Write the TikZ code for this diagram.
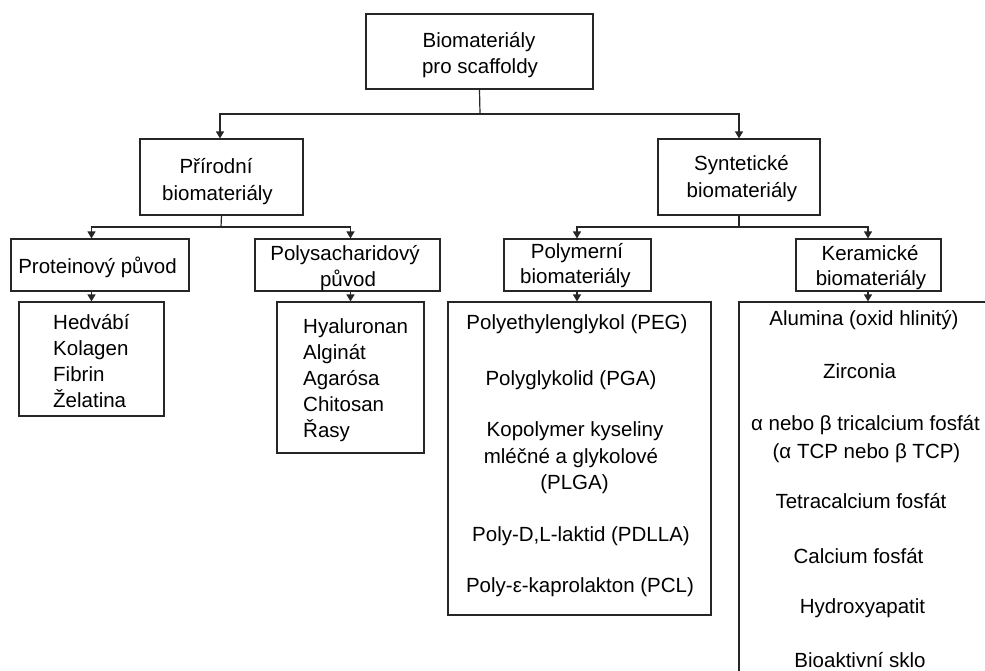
\documentclass[tikz,border=0pt]{standalone}
\usepackage{fontspec}
\setmainfont{Liberation Sans}
\usetikzlibrary{arrows.meta}
\begin{document}
\begin{tikzpicture}[x=1pt,y=-1pt,
  box/.style={draw=black!85,line width=1.2pt,inner sep=0pt,rectangle},
  conn/.style={draw=black!85,line width=1.2pt},
  arr/.style={conn,-{Triangle[length=7pt,width=8pt]}},
  txt/.style={font=\fontsize{20.5}{26}\selectfont,inner sep=0pt,anchor=base,text=black},
  ltxt/.style={txt,anchor=base west}]
\clip (0,0) rectangle (985,670);
\fill[white] (0,0) rectangle (985,670);

% boxes
\node[box,minimum width=227pt,minimum height=75pt] (top) at (479.5,51.5) {};
\node[box,minimum width=163pt,minimum height=76pt] (prir) at (221.5,177) {};
\node[box,minimum width=162pt,minimum height=76pt] (synt) at (739,177) {};
\node[box,minimum width=178pt,minimum height=52pt] (prot) at (100,265) {};
\node[box,minimum width=185pt,minimum height=52pt] (polys) at (347.5,265) {};
\node[box,minimum width=147pt,minimum height=52pt] (polym) at (577.5,265) {};
\node[box,minimum width=145pt,minimum height=52pt] (keram) at (868.5,265) {};
\node[box,minimum width=145pt,minimum height=114pt] (protlist) at (91.5,359) {};
\node[box,minimum width=147pt,minimum height=151pt] (polyslist) at (350.5,377.5) {};
\node[box,minimum width=263pt,minimum height=313pt] (polymlist) at (579.5,458.5) {};
\node[box,minimum width=248pt,minimum height=398pt] (keramlist) at (863,501) {};

% connectors
\coordinate (j0) at (480,114);
\coordinate (j1) at (221,227);
\coordinate (j2) at (739,227);
\draw[conn] (top.south) -- (j0);
\draw[arr] (j0) -| ([xshift=-1.5pt]prir.north);
\draw[arr] (j0) -| (synt.north);
\draw[conn] (prir.south) -- (j1);
\draw[arr] (j1) -| (prot.north -| protlist.north);
\draw[arr] (j1) -| (polys.north -| polyslist.north);
\draw[conn] (synt.south) -- (j2);
\draw[arr] (j2) -| ([xshift=-0.5pt]polym.north);
\draw[arr] (j2) -| ([xshift=-0.5pt]keram.north);
\draw[arr] (prot.south -| protlist.north) -- (protlist.north);
\draw[arr] (polys.south -| polyslist.north) -- (polyslist.north);
\draw[arr] ([xshift=-0.5pt]polym.south) -- ([xshift=-0.5pt]polym.south |- polymlist.north);
\draw[arr] ([xshift=-0.5pt]keram.south) -- ([xshift=-0.5pt]keram.south |- keramlist.north);

% texts
\node[txt] (t1) at (479,47) {Biomateriály};
\node[txt] (t2) at (480,73) {pro scaffoldy};
\node[txt] (t3) at (216,173) {Přírodní};
\node[txt] (t4) at (217.5,200) {biomateriály};
\node[txt] (t5) at (741.5,170) {Syntetické};
\node[txt] (t6) at (742,197) {biomateriály};
\node[txt] (t7) at (97.5,273) {Proteinový původ};
\node[txt] (t8) at (345,260) {Polysacharidový};
\node[txt] (t9) at (348,286) {původ};
\node[txt] (t10) at (577,258) {Polymerní};
\node[txt] (t11) at (575.5,283) {biomateriály};
\node[txt] (t12) at (870,260) {Keramické};
\node[txt] (t13) at (871,285) {biomateriály};

\node[ltxt] (p1) at (53,329) {Hedvábí};
\node[ltxt] (p2) at (53,355) {Kolagen};
\node[ltxt] (p3) at (53,381) {Fibrin};
\node[ltxt] (p4) at (53,407) {Želatina};

\node[ltxt] (s1) at (303,333) {Hyaluronan};
\node[ltxt] (s2) at (303,359) {Alginát};
\node[ltxt] (s3) at (303,385) {Agarósa};
\node[ltxt] (s4) at (303,411) {Chitosan};
\node[ltxt] (s5) at (303,437) {Řasy};

\node[txt] (m1) at (577,329) {Polyethylenglykol (PEG)};
\node[txt] (m2) at (571,385) {Polyglykolid (PGA)};
\node[txt] (m3) at (575,436) {Kopolymer kyseliny};
\node[txt] (m4) at (571,463) {mléčné a glykolové};
\node[txt] (m5) at (574.5,489) {(PLGA)};
\node[txt] (m6) at (581,541) {Poly-D,L-laktid (PDLLA)};
\node[txt] (m7) at (580,592) {Poly-ε-kaprolakton (PCL)};

\node[txt] (k1) at (864,325) {Alumina (oxid hlinitý)};
\node[txt] (k2) at (859.5,378) {Zirconia};
\node[txt] (k3) at (865.5,430) {α nebo β tricalcium fosfát};
\node[txt] (k4) at (866.5,458) {(α TCP nebo β TCP)};
\node[txt] (k5) at (861,508) {Tetracalcium fosfát};
\node[txt] (k6) at (858.5,563) {Calcium fosfát};
\node[txt] (k7) at (862.5,613) {Hydroxyapatit};
\node[txt] (k8) at (860,667) {Bioaktivní sklo};
\end{tikzpicture}
\end{document}
